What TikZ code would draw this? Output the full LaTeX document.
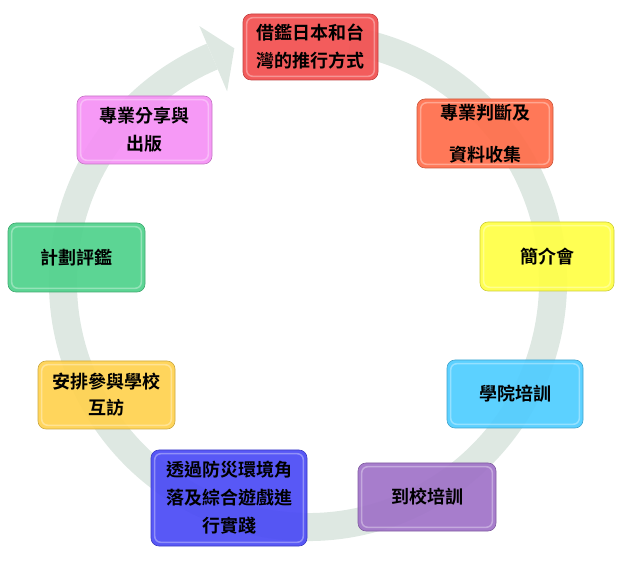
\documentclass[tikz,border=0pt]{standalone}
\usepackage{fontspec}
\newfontfamily\cjk{Noto Sans CJK TC Bold}
\begin{document}
\begin{tikzpicture}[x=1pt,y=1pt]
\useasboundingbox (0,0) rectangle (626,562);
\definecolor{ringc}{RGB}{222,232,226}
\definecolor{cred}{RGB}{242,80,80}
\definecolor{corange}{RGB}{255,110,75}
\definecolor{cyellow}{RGB}{255,255,70}
\definecolor{ccyan}{RGB}{80,205,255}
\definecolor{cpurple}{RGB}{160,115,200}
\definecolor{cblue}{RGB}{75,75,245}
\definecolor{cgold}{RGB}{255,210,80}
\definecolor{cgreen}{RGB}{80,210,140}
\definecolor{cpink}{RGB}{245,145,245}
\tikzset{
  box/.style={rounded corners=8pt, fill=#1, fill opacity=0.93, text opacity=1,
    draw=#1!80!black, line width=0.6pt, align=center, inner sep=0pt,
    font=\cjk\fontsize{18}{28}\selectfont, text=black},
  bevel/.style={draw=white, opacity=0.35, line width=1.5pt, rounded corners=6pt}
}
\coordinate (c) at (308,280);
% ring
\draw[ringc, line width=28pt] ([shift={(80:245pt)}]c) arc[start angle=80, end angle=-247, radius=245pt];
\fill[ringc] ([shift={(113:207pt)}]c) -- ([shift={(113:278pt)}]c) -- ([shift={(107.5:245pt)}]c) -- cycle;
% boxes
\node[box=cred, minimum width=135pt, minimum height=66pt] (n1) at (310.5,515) {借鑑日本和台\\灣的推行方式};
\node[box=corange, minimum width=136pt, minimum height=69pt] (n2) at (485,428.5) {專業判斷及\\[14pt]資料收集};
\node[box=cyellow, minimum width=134pt, minimum height=69pt] (n3) at (547,305.5) {簡介會};
\node[box=ccyan, minimum width=136pt, minimum height=68pt] (n4) at (515,168) {學院培訓};
\node[box=cpurple, minimum width=138pt, minimum height=68pt] (n5) at (427,65) {到校培訓};
\node[box=cblue, minimum width=156pt, minimum height=96pt] (n6) at (229,64) {透過防災環境角\\落及綜合遊戲進\\行實踐};
\node[box=cgold, minimum width=137pt, minimum height=68pt] (n7) at (106.5,167) {安排參與學校\\[-2pt]互訪};
\node[box=cgreen, minimum width=137pt, minimum height=69pt] (n8) at (76.5,304.5) {計劃評鑑};
\node[box=cpink, minimum width=135pt, minimum height=68pt] (n9) at (144.5,432) {專業分享與\\出版};
\foreach \n in {n1,n2,n3,n4,n5,n6,n7,n8,n9}
  \draw[bevel] ([shift={(4pt,4pt)}]\n.south west) rectangle ([shift={(-4pt,-4pt)}]\n.north east);
\end{tikzpicture}
\end{document}
